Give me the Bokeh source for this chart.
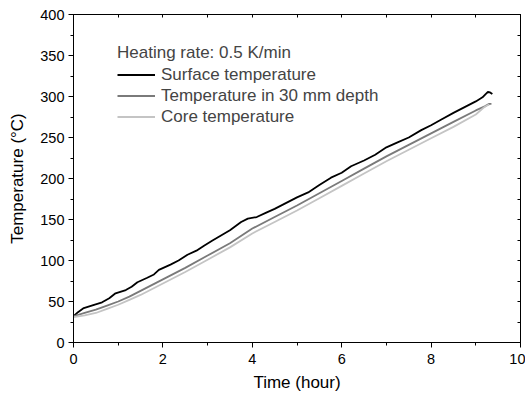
from bokeh.plotting import figure
from bokeh.models import (LinearAxis, Legend, LegendItem, Range1d,
                          SingleIntervalTicker, FixedTicker)
from bokeh.embed import file_html
from bokeh.resources import INLINE

# ---- data ----
surface_t = [0, 0.1, 0.23, 0.46, 0.64, 0.8, 0.94, 1.17, 1.3, 1.43, 1.65, 1.8,
             1.91, 2.17, 2.35, 2.55, 2.75, 2.92, 3.1, 3.3, 3.5, 3.75, 3.9,
             4.1, 4.3, 4.5, 4.75, 5.0, 5.25, 5.5, 5.76, 6.0, 6.21, 6.5, 6.75,
             7.0, 7.25, 7.5, 7.78, 8.0, 8.23, 8.5, 8.75, 9.0, 9.15, 9.22,
             9.27, 9.32, 9.37]
surface_T = [32, 37, 42, 46, 49, 54, 60, 64, 68, 73.5, 79, 83,
             88.5, 95, 100, 107, 112, 118, 124, 130.5, 137, 147, 151,
             153, 158, 163, 170, 177, 183, 192, 201, 207, 215, 222, 229,
             238, 244, 250, 259, 265, 272, 280, 287, 294, 299, 303,
             305.5, 305, 303]

depth_t = [0, 0.25, 0.5, 0.75, 1.0, 1.25, 1.5, 1.75, 2.0, 2.5, 3.0, 3.5, 4.0,
           4.5, 5.0, 5.5, 6.0, 6.5, 7.0, 7.5, 8.0, 8.5, 9.0, 9.2, 9.3, 9.35]
depth_T = [32, 36, 40, 45, 50, 56, 63, 70, 77, 91, 106, 121, 139,
           153, 167, 182, 197, 212, 227, 241, 255, 269, 283, 288, 291, 291]

core_t = [0, 0.25, 0.5, 0.75, 1.0, 1.25, 1.5, 1.75, 2.0, 2.5, 3.0, 3.5, 4.0,
          4.5, 5.0, 5.5, 6.0, 6.5, 7.0, 7.5, 8.0, 8.5, 9.0, 9.19, 9.25, 9.3]
core_T = [31, 33, 36, 41, 46, 52, 58, 65, 72, 86, 101, 116, 133,
          147, 161, 176, 191, 206, 221, 235, 249, 263, 278, 287, 289, 290]

series_labels = ["Surface temperature", "Temperature in 30 mm depth",
                 "Core temperature"]
legend_title = "Heating rate: 0.5 K/min"

x_mirror_ticks = list(range(0, 11))
y_mirror_ticks = list(range(0, 401, 25))

FONT = "Liberation Sans"

p = figure(width=525, height=398, x_range=Range1d(0, 10), y_range=Range1d(0, 400),
           output_backend="svg", toolbar_location=None,
           min_border_left=73, min_border_right=5, min_border_top=14,
           min_border_bottom=56, x_axis_label="Time (hour)",
           y_axis_label="Temperature (°C)")
p.grid.visible = False
p.outline_line_color = "black"
p.background_fill_color = "white"
p.border_fill_color = "white"

p.xaxis.ticker = SingleIntervalTicker(interval=2, num_minor_ticks=2)
p.yaxis.ticker = SingleIntervalTicker(interval=50, num_minor_ticks=2)
for ax in (p.xaxis[0], p.yaxis[0]):
    ax.axis_line_color = "black"
    ax.major_tick_line_color = "black"
    ax.minor_tick_line_color = "black"
    ax.major_tick_in = 0
    ax.major_tick_out = 5
    ax.minor_tick_in = 0
    ax.minor_tick_out = 3
    ax.major_label_text_font = FONT
    ax.major_label_text_font_size = "14.5px"
    ax.major_label_text_color = "black"
    ax.axis_label_text_font = FONT
    ax.axis_label_text_font_size = "17px"
    ax.axis_label_text_font_style = "normal"
    ax.axis_label_text_color = "black"
p.xaxis.major_label_standoff = 6
p.xaxis.axis_label_standoff = 6
p.yaxis.major_label_standoff = 4
p.yaxis.axis_label_standoff = 10

# mirror axes: ticks only (inward), no labels
top = LinearAxis(ticker=FixedTicker(ticks=[], minor_ticks=x_mirror_ticks),
                 major_label_standoff=0, minor_tick_in=3, minor_tick_out=0,
                 major_tick_in=0, major_tick_out=0)
right = LinearAxis(ticker=FixedTicker(ticks=[], minor_ticks=y_mirror_ticks),
                   major_label_standoff=0, minor_tick_in=3, minor_tick_out=0,
                   major_tick_in=0, major_tick_out=0)
p.add_layout(top, "above")
p.add_layout(right, "right")

r1 = p.line(surface_t, surface_T, line_color="black", line_width=1.8)
r2 = p.line(depth_t, depth_T, line_color="#7a7a7a", line_width=1.8)
r3 = p.line(core_t, core_T, line_color="#c4c4c4", line_width=1.8)

legend = Legend(items=[LegendItem(label=series_labels[0], renderers=[r1]),
                       LegendItem(label=series_labels[1], renderers=[r2]),
                       LegendItem(label=series_labels[2], renderers=[r3])],
                title=legend_title, location=(44, 215))
legend.title_text_font = FONT
legend.title_text_font_size = "17px"
legend.title_text_font_style = "normal"
legend.title_standoff = 1
legend.label_text_font = FONT
legend.label_text_font_size = "17px"
legend.glyph_width = 38
legend.glyph_height = 21
legend.label_height = 21
legend.spacing = 0
legend.label_standoff = 6
legend.padding = 0
legend.margin = 0
legend.border_line_color = None
legend.background_fill_alpha = 0
p.add_layout(legend)

open("out.html", "w").write(file_html(p, INLINE))
